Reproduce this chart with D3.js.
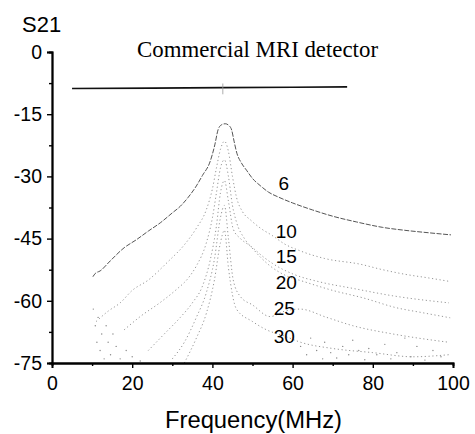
<!DOCTYPE html>
<html>
<head>
<meta charset="utf-8">
<script src="https://cdn.jsdelivr.net/npm/d3@7"></script>
<style>
  body { margin: 0; background: #fff; }
  svg { display: block; font-family: "Liberation Sans", Arial, sans-serif; }
</style>
</head>
<body>
<div id="chart"></div>
<script>
// tick values
const xTicks = [0, 20, 40, 60, 80, 100];
const xMinor = [10, 30, 50, 70, 90];
const yTicks = [0, -15, -30, -45, -60, -75];
const yMinor = [-7.5, -22.5, -37.5, -52.5, -67.5];

// commercial detector, flat line
const commercial = [[5, -8.8], [25, -8.7], [42.6, -8.6], [60, -8.5], [73.6, -8.4]];

// S21 curves, [MHz, dB]
const curve6 = [[10.2, -54.2], [10.8, -53.4], [12, -52.8], [14.5, -50.4], [18, -47.2], [21, -45.3], [24, -43.2],
  [27, -41.2], [30, -38.8], [32, -37.2], [34, -35], [36, -32.3], [37.5, -29.8], [39.4, -26.5], [40.6, -22.4],
  [41.4, -18.8], [42.2, -17.6], [43.2, -17.3], [44.2, -17.8], [44.8, -18.8], [45.4, -21.5], [46.1, -24.4],
  [47.2, -26.7], [48.5, -28.5], [50, -30.5], [51.9, -32.2], [54, -33.8], [56.5, -35], [60, -36.4], [65, -38.1],
  [70, -39.6], [76, -41], [82.5, -42.3], [88, -43], [94, -43.6], [99.5, -44.1]];
const curve10 = [[11, -65], [14, -62.5], [17, -60.5], [20, -57.5], [24, -55], [29, -50.5], [33, -46.5], [36, -42.5],
  [38.5, -38], [40, -33], [41, -28], [42, -23.5], [43, -21.5], [44, -24], [45, -30], [46, -35], [47.5, -38.5],
  [49.5, -40.5], [52, -42.5], [55, -44.3], [58, -46.3], [62, -48], [68, -49.8], [77, -51.2], [82, -52.4],
  [88, -53.6], [94, -54.5], [99, -55.3]];
const curve15 = [[18, -67], [22, -63.8], [27, -60.4], [31, -57.3], [34, -54.5], [36, -51.6], [38.5, -46], [40, -40],
  [41, -34], [42, -28], [43, -26], [44, -30], [45, -37], [46, -41], [48, -45], [51, -48], [55, -51], [60, -53.5],
  [67, -55.5], [75, -57], [85, -58.8], [99, -60.5]];
const curve20 = [[24, -72], [28, -68], [32, -64], [35, -60.5], [37.5, -56.5], [39.5, -50], [41, -42], [42, -34],
  [43, -31], [44, -36], [45.2, -42.7], [47, -45], [49.4, -46.8], [52, -49.5], [54.4, -51.6], [58.5, -54],
  [62.6, -55.3], [70, -57.5], [77.6, -59.3], [86, -61.7], [92, -62.8], [99.3, -64.1]];
const curve25 = [[30, -74], [33, -70], [36, -64], [38.5, -58], [40.5, -50], [42, -40], [43, -37], [44, -45],
  [45.2, -55], [47, -59], [50, -61], [54.4, -63.8], [58, -62.5], [61.8, -62], [68.5, -64], [75, -66], [85, -68],
  [95, -69.5], [99, -70]];
const curve30 = [[33, -75], [36, -69], [38.5, -63], [40.5, -55], [42, -46], [43, -43], [44, -52], [46, -62],
  [50, -65], [53.5, -67], [58, -68.5], [62, -70], [70, -71.5], [80, -72.5], [90, -73.5], [99, -73]];

const curveNames = ['6', '10', '15', '20', '25', '30'];
const curveData = [curve6, curve10, curve15, curve20, curve25, curve30];
const labelPos = [[56.5, -33.3], [55.8, -44.9], [55.8, -50.9], [55.8, -57.2], [55.3, -63.4], [55.3, -70.2]];

// scattered noise near the floor
const noise = [[10.3, -62], [10.8, -66], [11.2, -70], [11.5, -64], [12, -72], [12.4, -68], [13, -74], [13.5, -66],
  [14, -70], [14.6, -73], [15.2, -68], [16, -71], [17, -74], [18.5, -72], [20, -73.5], [22, -74.5],
  [62, -71], [63.5, -73], [64.5, -69], [66, -72], [67.5, -74], [68, -70], [69.5, -72.5], [71, -73.8],
  [72.5, -71], [74, -73], [75, -69.5], [76.5, -72], [78, -74.2], [79, -71.5], [81, -73], [83, -70.5],
  [84.5, -74], [86, -72.5], [88, -69], [89.5, -73.5], [91, -71], [93, -74.3], [95, -72], [97, -73.5]];

const width = 475, height = 434;
const svg = d3.select('#chart').append('svg')
  .attr('width', width)
  .attr('height', height);

const x = d3.scaleLinear().domain([0, 100]).range([52, 453]);
const y = d3.scaleLinear().domain([-75, 0]).range([363, 52]);

svg.append('clipPath').attr('id', 'plot')
  .append('rect').attr('x', 52).attr('y', 40).attr('width', 402).attr('height', 323);

const line = d3.line().x(d => x(d[0])).y(d => y(d[1])).curve(d3.curveMonotoneX);
const g = svg.append('g').attr('clip-path', 'url(#plot)');

curveData.forEach((c, i) => {
  g.append('path')
    .datum(c)
    .attr('d', line)
    .attr('fill', 'none')
    .attr('stroke', i === 0 ? '#555' : '#8a8a8a')
    .attr('stroke-width', i === 0 ? 1 : 0.9)
    .attr('stroke-dasharray', i === 0 ? '5,1.5' : '1.2,2.6');
});

g.selectAll('circle.noise')
  .data(noise)
  .join('circle')
  .attr('class', 'noise')
  .attr('cx', d => x(d[0]))
  .attr('cy', d => y(d[1]))
  .attr('r', 0.7)
  .attr('fill', '#888');

// commercial detector
g.append('path')
  .datum(commercial)
  .attr('d', d3.line().x(d => x(d[0])).y(d => y(d[1])))
  .attr('fill', 'none')
  .attr('stroke', '#111')
  .attr('stroke-width', 1.6);
g.append('line')
  .attr('x1', x(42.6)).attr('x2', x(42.6))
  .attr('y1', y(-7.6)).attr('y2', y(-10.2))
  .attr('stroke', '#999').attr('stroke-width', 0.8);

svg.selectAll('text.clabel')
  .data(curveNames)
  .join('text')
  .attr('class', 'clabel')
  .attr('x', (d, i) => x(labelPos[i][0]))
  .attr('y', (d, i) => y(labelPos[i][1]))
  .attr('font-size', 19)
  .text(d => d);

// axes, plain hyphen for the minus like the scan
const fmt = d => String(d);
svg.append('g').attr('transform', 'translate(52,0)')
  .call(d3.axisLeft(y).tickValues(yTicks).tickSize(5).tickPadding(5).tickFormat(fmt));
svg.append('g').attr('transform', 'translate(52,0)')
  .call(d3.axisLeft(y).tickValues(yMinor).tickSize(3).tickFormat(''));
svg.append('g').attr('transform', 'translate(0,363)')
  .call(d3.axisBottom(x).tickValues(xTicks).tickSize(5).tickPadding(8).tickFormat(fmt));
svg.append('g').attr('transform', 'translate(0,363)')
  .call(d3.axisBottom(x).tickValues(xMinor).tickSize(3).tickFormat(''));

svg.selectAll('.domain').attr('stroke', '#000').attr('stroke-width', 1.8);
svg.selectAll('.tick line').attr('stroke', '#000').attr('stroke-width', 1.4);
svg.selectAll('.tick text')
  .attr('font-size', 19.5)
  .attr('font-family', '"Liberation Sans", Arial, sans-serif')
  .attr('fill', '#000');

svg.append('text')
  .attr('x', 22).attr('y', 32)
  .attr('font-size', 22)
  .text('S21');

svg.append('text')
  .attr('x', 137).attr('y', 57)
  .attr('font-family', '"Liberation Serif", "Times New Roman", serif')
  .attr('font-size', 22.5)
  .attr('textLength', 241)
  .attr('lengthAdjust', 'spacingAndGlyphs')
  .text('Commercial MRI detector');

svg.append('text')
  .attr('x', 165).attr('y', 428)
  .attr('font-size', 23)
  .attr('textLength', 177)
  .attr('lengthAdjust', 'spacingAndGlyphs')
  .text('Frequency(MHz)');
</script>
</body>
</html>
